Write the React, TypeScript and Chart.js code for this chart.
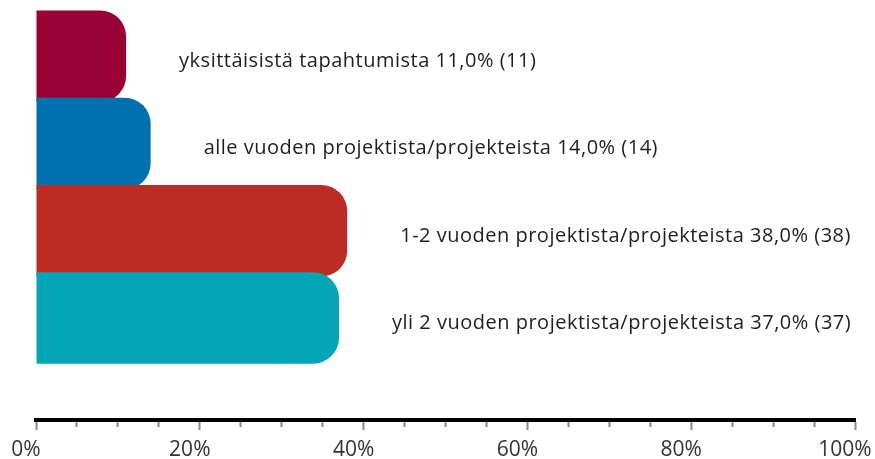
import React, { useEffect, useRef } from "react";
import { Chart, registerables } from "chart.js";

Chart.register(...registerables);

const categories = [
  "yksittäisistä tapahtumista",
  "alle vuoden projektista/projekteista",
  "1-2 vuoden projektista/projekteista",
  "yli 2 vuoden projektista/projekteista",
];
const percentages = [11, 14, 38, 37];
const counts = [11, 14, 38, 37];
const barColors = ["#990036", "#0071AE", "#BC2C24", "#03A6B7"];
const xTickStep = 5;
const xLabelStep = 20;

const FONT = "'Open Sans', 'Noto Sans', sans-serif";

const labelPlugin = {
  id: "barLabels",
  afterDatasetsDraw(chart: any) {
    const ctx = chart.ctx;
    const meta = chart.getDatasetMeta(0);
    ctx.save();
    ctx.font = `20px ${FONT}`;
    (ctx as any).letterSpacing = "0.5px";
    ctx.fillStyle = "#1e1e1e";
    ctx.textAlign = "left";
    ctx.textBaseline = "alphabetic";
    meta.data.forEach((bar: any, i: number) => {
      const text = `${categories[i]} ${percentages[i].toFixed(1).replace(".", ",")}% (${counts[i]})`;
      ctx.fillText(text, bar.x + 53, bar.y + 10.8);
    });
    ctx.restore();
  },
};

export default function App() {
  const ref = useRef<HTMLCanvasElement>(null);
  useEffect(() => {
    if (!ref.current) return;
    const chart = new Chart(ref.current, {
      type: "bar",
      data: {
        labels: categories,
        datasets: [
          {
            data: percentages.map((v, i) => ({ x: v, y: i })) as any,
            backgroundColor: barColors,
            borderWidth: 0,
            borderRadius: { topLeft: 0, bottomLeft: 0, topRight: 26, bottomRight: 26 },
            borderSkipped: false,
            barPercentage: 1.05,
            categoryPercentage: 1,
            clip: false as any,
          },
        ],
      },
      options: {
        indexAxis: "y",
        animation: false,
        responsive: false,
        layout: { padding: { left: 36, right: 20, top: 10, bottom: 0 } },
        plugins: { legend: { display: false }, tooltip: { enabled: false } },
        scales: {
          y: {
            type: "linear",
            display: false,
            reverse: true,
            offset: false,
            grid: { offset: false },
            min: -0.53,
            max: 4.17,
            afterBuildTicks: (scale: any) => {
              scale.ticks = categories.map((_, i) => ({ value: i }));
            },
          },
          x: {
            type: "linear",
            min: 0,
            max: 100,
            border: { display: true, color: "#000000", width: 4 },
            grid: {
              drawOnChartArea: false,
              drawTicks: true,
              tickLength: 10,
              tickColor: "#8a8a8a",
              tickWidth: 2,
              tickBorderDash: (ctx: any) =>
                ctx.tick && ctx.tick.value % xLabelStep === 0 ? [] : [5, 100],
            },
            ticks: {
              stepSize: xTickStep,
              autoSkip: false,
              maxRotation: 0,
              padding: 10,
              labelOffset: -10,
              color: "#333333",
              font: { family: FONT, size: 21, lineHeight: 1 },
              callback: (v: any) => (Number(v) % xLabelStep === 0 ? `${v}%` : ""),
            },
            afterFit: (scale: any) => {
              scale.paddingLeft = 0;
              scale.paddingRight = 0;
              scale.height = 39;
            },
          },
        },
      },
      plugins: [labelPlugin],
    });
    return () => chart.destroy();
  }, []);
  return (
    <div style={{ position: "absolute", left: 0, top: 0, width: 875, height: 459 }}>
      <canvas ref={ref} width={875} height={459} />
    </div>
  );
}
